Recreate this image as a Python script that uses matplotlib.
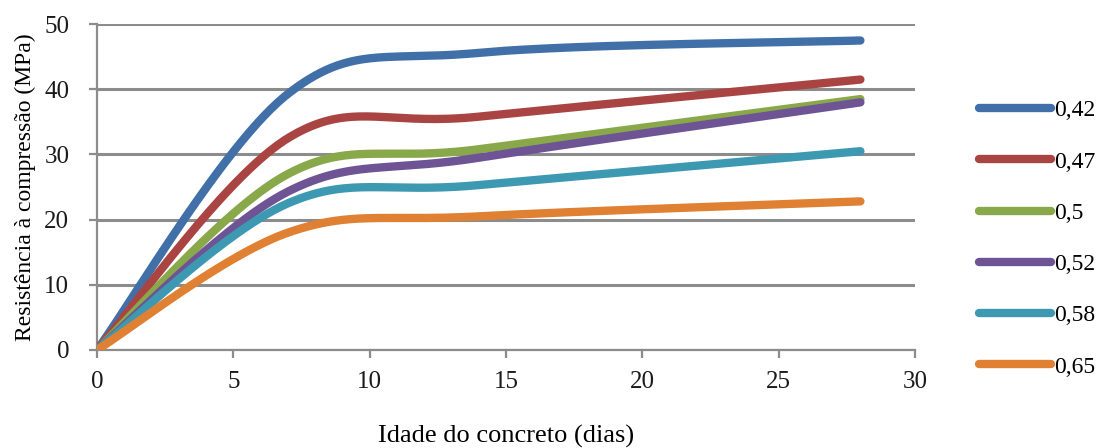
import numpy as np
import matplotlib
matplotlib.use("Agg")
from matplotlib import pyplot as plt

# idade (dias) e resistencia media (MPa) por relacao a/c
idade = [0, 7, 14, 28]
rel_ac = ["0,42", "0,47", "0,5", "0,52", "0,58", "0,65"]
r042 = [0, 39.3, 45.6, 47.5]
r047 = [0, 32.5, 35.8, 41.5]
r050 = [0, 27.0, 30.8, 38.5]
r052 = [0, 24.3, 29.5, 38.0]
r058 = [0, 22.5, 25.3, 30.5]
r065 = [0, 18.0, 20.5, 22.8]
series = [r042, r047, r050, r052, r058, r065]
cores = ["#4170A8", "#A94442", "#88A84A", "#6E5494", "#3D99B1", "#E08032"]


def suaviza(x, y, n=60):
    # linha suavizada tipo planilha (bezier com tangentes de catmull-rom)
    p = np.column_stack([x, y]).astype(float)
    ext = np.vstack([p[0], p, p[-1]])
    xs, ys = [], []
    t = np.linspace(0, 1, n)
    for i in range(len(p) - 1):
        p0, p1, p2, p3 = ext[i], ext[i + 1], ext[i + 2], ext[i + 3]
        c1 = p1 + (p2 - p0) / 6
        c2 = p2 - (p3 - p1) / 6
        b = ((1 - t) ** 3)[:, None] * p1 + (3 * t * (1 - t) ** 2)[:, None] * c1 \
            + (3 * t ** 2 * (1 - t))[:, None] * c2 + (t ** 3)[:, None] * p2
        xs.extend(b[:, 0])
        ys.extend(b[:, 1])
    return xs, ys


plt.rcParams['font.family'] = ['Liberation Serif', 'DejaVu Serif']

fig = plt.figure(figsize=(11.09, 4.48), dpi=100)
ax = fig.add_axes([0.0875, 0.219, 0.7375, 0.727])

for s, c, lab in zip(series, cores, rel_ac):
    xs, ys = suaviza(idade, s)
    ax.plot(xs, ys, color=c, lw=6, solid_capstyle='round', label=lab, zorder=3)

ax.set_xlim(0, 30)
ax.set_ylim(0, 50)
ax.set_xticks(range(0, 31, 5))
ax.set_yticks(range(0, 51, 10))
ax.yaxis.grid(True, color="#8C8C8C", lw=2.2)
ax.set_axisbelow(True)
for lado in ["top", "right"]:
    ax.spines[lado].set_visible(False)
for lado in ["left", "bottom"]:
    ax.spines[lado].set_color("#8C8C8C")
    ax.spines[lado].set_linewidth(1.6)
ax.tick_params(axis='both', colors="#8C8C8C", width=1.6, length=6, labelsize=18,
               labelcolor="#1a1a1a")
ax.tick_params(axis='x', pad=9)
ax.tick_params(axis='y', pad=14)

ax.set_xlabel("Idade do concreto (dias)", fontsize=19, labelpad=23)
ax.set_ylabel("Resistência à compressão (MPa)", fontsize=17, labelpad=6)

fig.legend(loc='center left', bbox_to_anchor=(0.864, 0.467), frameon=False,
           fontsize=17, handlelength=3.05, handletextpad=0.1, labelspacing=1.26)

fig.savefig("out.png", dpi=100)
